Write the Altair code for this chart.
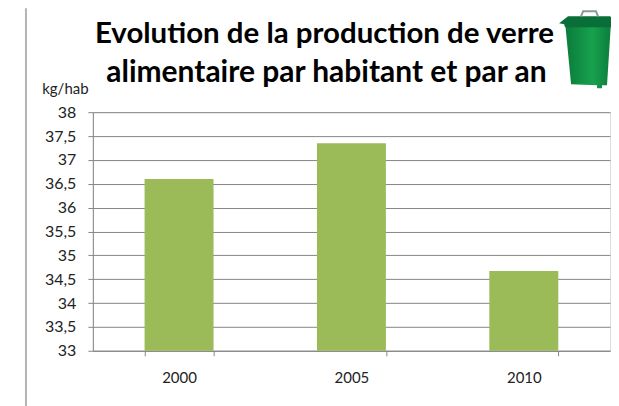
import altair as alt
import pandas as pd

years = ["2000", "2005", "2010"]
values = [36.6, 37.35, 34.67]
y_ticks = [33, 33.5, 34, 34.5, 35, 35.5, 36, 36.5, 37, 37.5, 38]
title_lines = ["Evolution de la production de verre", "alimentaire par habitant et par an"]
unit = "kg/hab"

FONT = "Lato"
df = pd.DataFrame({"year": years, "value": values})

W, H = 518, 239
LEFT, TOP = 85, 104

x = alt.X("year:N", title=None, scale=alt.Scale(paddingInner=0.6, paddingOuter=0.3),
          axis=alt.Axis(labelAngle=0, labelFont=FONT, labelFontSize=15, labelColor="#222222",
                        labelPadding=15, tickBand="extent", tickSize=5, tickColor="#868686",
                        domainColor="#868686", grid=False))
y = alt.Y("value:Q", title=None, scale=alt.Scale(domain=[33, 38], nice=False, zero=False),
          axis=alt.Axis(values=y_ticks, labelFont=FONT, labelFontSize=16, labelColor="#222222",
                        labelExpr="replace(format(datum.value, '.1~f'), '.', ',')",
                        labelPadding=12, tickSize=5, tickColor="#868686", domainColor="#868686",
                        gridColor="#868686", gridOpacity=1, grid=True))

bars = alt.Chart(df).mark_bar(color="#9BBB59", clip=False).encode(x=x, y=y, y2=alt.datum(33))

frame = alt.Chart(pd.DataFrame({"a": [0]})).mark_rule(color="#b4b4b4", strokeWidth=2, clip=False).encode(
    x=alt.value(26 - 8 - LEFT), y=alt.value(-TOP), y2=alt.value(H + 60))

def label(text, px, py, **kw):
    return alt.Chart(pd.DataFrame({"t": [text]})).mark_text(font=FONT, **kw).encode(
        text="t:N", x=alt.value(px - 8 - LEFT), y=alt.value(py - 8 - TOP))

t1 = label(title_lines[0], 325, 34, fontSize=29.5, fontWeight="bold", color="#000000", align="center", baseline="middle")
t2 = label(title_lines[1], 327, 73, fontSize=30, fontWeight="bold", color="#000000", align="center", baseline="middle")
u = label(unit, 65.5, 89, fontSize=15, color="#222222", align="center", baseline="middle")

def bin_part(path, color, px, py, **kw):
    # size 4 makes one path unit one pixel
    return alt.Chart(pd.DataFrame({"a": [0]})).mark_point(shape=path, color=color, opacity=1, size=4, **kw).encode(
        x=alt.value(px - 8 - LEFT), y=alt.value(py - 8 - TOP))

green = alt.Gradient(gradient="linear", x1=0, x2=1, y1=0, y2=0,
                     stops=[alt.GradientStop(offset=0, color="#0b7a3a"),
                            alt.GradientStop(offset=0.6, color="#17a24e"),
                            alt.GradientStop(offset=1, color="#0c7c3c")])
body = bin_part("M-23,-33 L23,-33 L19,30 L14,30 L14,33 L9,33 L9,30 L-17,29 Z", green, 589, 55, filled=True)
lid = bin_part("M-29,2 L-20,-5 L22,-5 L29,0 L26,3 L25,6 L-23,6 L-24,3 Z", "#0a6e38", 589, 21, filled=True)
handle = bin_part("M-7,3 L-5,-2 L8,-2 L10,3", "#8a9d90", 589, 13, filled=False, strokeWidth=2)

chart = (alt.layer(bars, frame, t1, t2, u, body, lid, handle)
         .properties(width=W, height=H, autosize=alt.AutoSizeParams(type="none"),
                     padding={"left": LEFT, "top": TOP, "right": 1, "bottom": 55})
         .configure_view(stroke=None)
         .configure(background="white"))

chart.save("out.html", embed_options={"renderer": "svg", "actions": False})
